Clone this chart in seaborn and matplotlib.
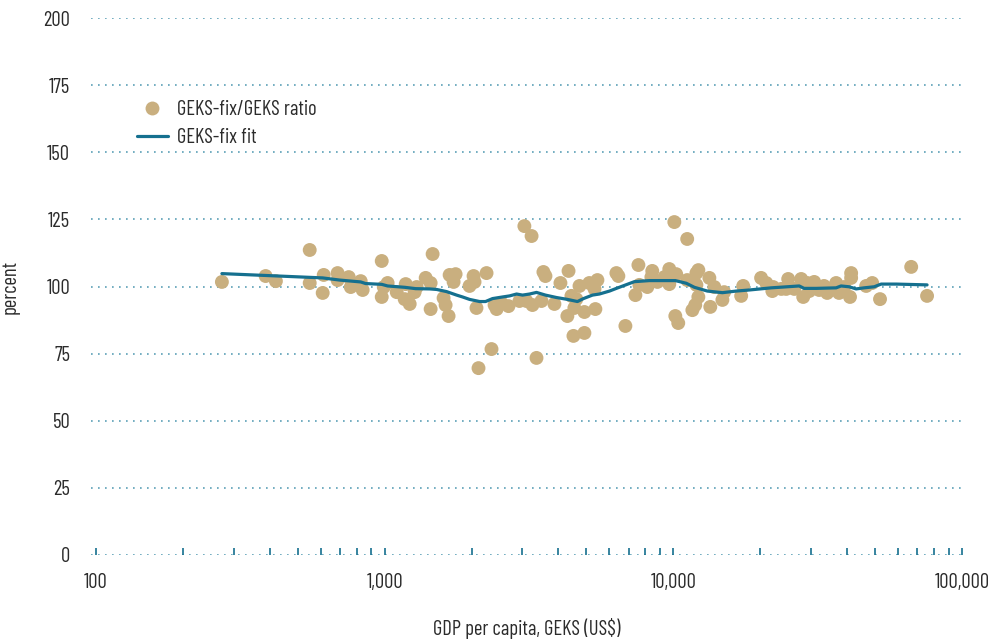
import numpy as np
import pandas as pd
import matplotlib
matplotlib.use("Agg")
import matplotlib.pyplot as plt
from matplotlib.lines import Line2D
import seaborn as sns

# GDP per capita (GEKS, US$) and GEKS-fix/GEKS ratio (percent)
gdp = [273, 387, 420, 550, 550, 615, 610, 687, 687, 751, 763, 826, 839, 977, 977,
       1024, 993, 1101, 1183, 1173, 1221, 1270, 1291, 1387, 1443, 1443, 1466, 1600,
       1626, 1665, 1679, 1761, 1733, 1968, 2032, 2048, 2080, 2114, 2254, 2345, 2403,
       2443, 2541, 2685, 2931, 3048, 3228, 3097, 3251, 3357, 3493, 3548, 3606, 3873,
       4064, 4335, 4436, 4295, 4508, 4613, 4541, 4731, 4920, 4920, 5117, 5333, 5370,
       5458, 6350, 6451, 6823, 7390, 7569, 7627, 8128, 8453, 8394, 8810, 9311, 9683,
       9683, 10233, 10080, 11170, 11170, 12020, 12210, 12020, 12210, 11910, 11640,
       10160, 10400, 13330, 13870, 13430, 15000, 14790, 17180, 17460, 20140, 20990,
       22030, 22180, 23660, 25000, 24600, 26240, 27730, 28180, 29110, 30760, 31990,
       33270, 34120, 36640, 37500, 39080, 41300, 41300, 40930, 46560, 48860, 52000,
       66680, 75680, 29570, 35220]
ratio = [101.7, 103.9, 102.0, 113.6, 101.3, 104.3, 97.6, 105.0, 102.4, 103.5, 99.8,
         102.0, 98.7, 109.5, 96.1, 101.3, 99.8, 97.9, 100.9, 95.3, 93.5, 97.9, 99.8,
         103.2, 101.3, 91.6, 112.1, 95.7, 93.1, 89.0, 104.3, 104.6, 101.7, 100.2,
         103.9, 101.7, 92.0, 69.6, 105.0, 76.7, 93.1, 91.6, 93.8, 92.7, 94.6, 122.5,
         118.8, 94.6, 93.1, 73.4, 94.6, 105.4, 103.9, 93.5, 101.3, 105.8, 96.5, 89.0,
         81.6, 95.3, 92.0, 100.2, 90.5, 82.7, 101.3, 99.1, 91.6, 102.4, 105.0, 103.9,
         85.3, 96.8, 108.0, 100.6, 99.8, 105.8, 103.5, 101.7, 103.5, 106.5, 100.9,
         104.6, 124.0, 117.7, 102.4, 105.0, 106.1, 100.6, 96.1, 93.1, 91.2, 89.0, 86.4,
         103.2, 99.8, 92.4, 97.9, 95.0, 96.5, 100.2, 103.2, 101.3, 98.3, 99.8, 99.1,
         102.8, 99.1, 99.1, 102.8, 96.1, 101.3, 101.7, 98.7, 100.2, 97.6, 101.3, 97.6,
         99.8, 105.0, 103.2, 96.1, 100.2, 101.3, 95.3, 107.3, 96.5, 98.3, 99.1]

# GEKS-fix fit
fit_gdp = [273, 610, 698, 826, 859, 977, 1024, 1173, 1280, 1432, 1514, 1639, 1775,
           1862, 1968, 2133, 2236, 2364, 2560, 2709, 2864, 3004, 3177, 3357, 3606,
           3936, 4295, 4654, 4883, 5248, 5546, 6010, 6350, 7328, 8260, 10160, 11090,
           11830, 13120, 14790, 16520, 18330, 21830, 27290, 28380, 31260, 36640,
           38110, 40640, 42970, 45810, 49650, 52480, 59160, 75680]
fit_val = [104.8, 103.2, 102.4, 101.7, 101.1, 100.8, 100.2, 99.7, 99.2, 99.1, 98.9,
           98.1, 96.8, 96.1, 95.2, 94.4, 94.4, 95.5, 96.1, 96.5, 97.2, 96.8, 97.2,
           97.8, 96.8, 95.9, 95.2, 94.4, 95.5, 96.8, 97.2, 98.3, 99.3, 101.8, 102.2,
           102.2, 101.2, 99.7, 98.3, 97.7, 98.3, 98.7, 99.5, 100.2, 99.3, 99.3, 99.5,
           100.2, 99.9, 99.1, 99.5, 99.9, 100.9, 100.9, 100.6]

y_ticks = [0, 25, 50, 75, 100, 125, 150, 175, 200]
x_ticks = [100, 1000, 10000, 100000]
x_tick_labels = ["100", "1,000", "10,000", "100,000"]

pts = pd.DataFrame({"gdp": gdp, "ratio": ratio})
fit = pd.DataFrame({"gdp": fit_gdp, "val": fit_val})

sns.set_theme(style="white")
plt.rcParams["font.family"] = ["Barlow Condensed", "DejaVu Sans"]

tan = "#c9af7f"
teal = "#15708f"
grid_c = "#5b9fb6"
txt = "#2b2b2b"
fs = 14.8

fig = plt.figure(figsize=(9.99, 6.44), dpi=100)
ax = fig.add_axes([91 / 999, (644 - 555) / 644, (962 - 91) / 999, (555 - 18) / 644])

for yv in y_ticks:
    ax.axhline(yv, color=grid_c, lw=1.2, linestyle=(0, (1, 3.2)), zorder=0)

sns.scatterplot(data=pts, x="gdp", y="ratio", ax=ax, color=tan, s=100,
                edgecolor="none", linewidth=0, zorder=2, legend=False)
sns.lineplot(data=fit, x="gdp", y="val", ax=ax, color=teal, lw=2.3,
             sort=False, estimator=None, zorder=3, legend=False)

ax.set_xscale("log")
ax.set_xlim(96.1, 99200)
ax.set_ylim(0, 200)
ax.set_yticks(y_ticks)
ax.set_yticklabels([str(v) for v in y_ticks])
ax.set_xticks(x_ticks)
ax.set_xticklabels(x_tick_labels)
ax.xaxis.set_minor_locator(matplotlib.ticker.LogLocator(base=10, subs=np.arange(2, 10)))
ax.xaxis.set_minor_formatter(matplotlib.ticker.NullFormatter())

for s in ax.spines.values():
    s.set_visible(False)

ax.tick_params(axis="x", which="both", direction="in", length=5, width=1.2,
               color=teal, pad=13, labelsize=fs, labelcolor=txt, bottom=True)
ax.tick_params(axis="y", which="both", length=0, pad=15, labelsize=fs, labelcolor=txt)

ax.set_xlabel("GDP per capita, GEKS (US$)", fontsize=fs, color=txt, labelpad=19)
ax.set_ylabel("percent", fontsize=fs, color=txt, labelpad=17)

handles = [
    Line2D([], [], marker="o", linestyle="none", markersize=10, color=tan,
           markeredgewidth=0),
    Line2D([], [], color=teal, lw=2.3),
]
ax.legend(handles, ["GEKS-fix/GEKS ratio", "GEKS-fix fit"], loc="upper left",
          bbox_to_anchor=(137 / 999, 1 - 100 / 644), bbox_transform=fig.transFigure,
          frameon=False, fontsize=fs, handlelength=1.5, handletextpad=0.45,
          labelspacing=0.45, borderaxespad=0, borderpad=0, labelcolor=txt)

fig.savefig("out.png", dpi=100)
